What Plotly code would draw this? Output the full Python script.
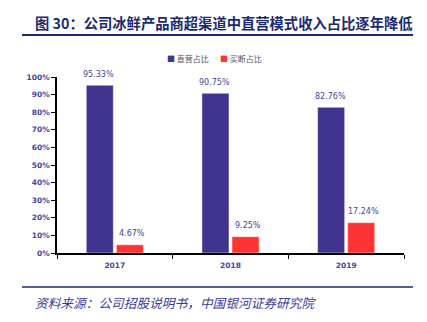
import plotly.graph_objects as go

years = ["2017", "2018", "2019"]
direct_share = [95.33, 90.75, 82.76]
buyout_share = [4.67, 9.25, 17.24]
series_names = ["直营占比", "买断占比"]
y_ticks = [0, 10, 20, 30, 40, 50, 60, 70, 80, 90, 100]
y_tick_labels = [f"{v}%" for v in y_ticks]
title_text = "图 30：公司冰鲜产品商超渠道中直营模式收入占比逐年降低"
source_text = "资料来源：公司招股说明书，中国银河证券研究院"

BLUE = "#41348f"
RED = "#ff3333"
LABEL = "#4545a5"
NAVY = "#1c2a72"

W, H = 427, 322
L, R, T, B = 57, 23, 77, 69
pw, ph = W - L - R, H - T - B

def px(x):
    return (x - L) / pw

def py(y):
    return (H - B - y) / ph

fig = go.Figure()
for name, vals, col, shift in [(series_names[0], direct_share, BLUE, -16), (series_names[1], buyout_share, RED, 17)]:
    fig.add_trace(go.Bar(
        x=years, y=vals, name=name,
        marker=dict(color=col, line=dict(color="rgba(255,255,255,0.6)", width=0.8)),
        cliponaxis=False, showlegend=False,
    ))
    for i, v in enumerate(vals):
        fig.add_annotation(x=i, y=v, xref="x", yref="y", text=f"{v:.2f}%", showarrow=False,
                           xshift=shift, yshift=11, yanchor="middle",
                           font=dict(family="DejaVu Sans", size=8, color=LABEL))

fig.update_layout(
    width=W, height=H,
    margin=dict(l=L, r=R, t=T, b=B),
    paper_bgcolor="white", plot_bgcolor="white",
    barmode="group", bargap=0.48, bargroupgap=0.1,
    font=dict(family="DejaVu Sans"),
    xaxis=dict(
        type="category", range=[-0.5, 2.5], showline=True, linecolor="black", linewidth=1.5,
        ticks="outside", tickson="boundaries", ticklen=4, tickcolor="black",
        tickfont=dict(family="DejaVu Sans", size=7.5, color=LABEL, weight="bold"),
        showgrid=False, zeroline=False, ticklabelstandoff=4,
    ),
    yaxis=dict(
        range=[0, 100], tickvals=y_ticks, ticktext=y_tick_labels,
        showline=True, linecolor="black", linewidth=1.5,
        ticks="outside", ticklen=4, tickcolor="black",
        tickfont=dict(family="DejaVu Sans", size=7.5, color=LABEL, weight="bold"),
        showgrid=False, zeroline=False,
    ),
)

ann = [
    dict(text=f"<b>{title_text}</b>", x=px(33), y=py(22), xanchor="left", yanchor="middle",
         font=dict(family="Noto Sans CJK SC", size=14.3, color=NAVY)),
    dict(text=f"<i>{source_text}</i>", x=px(33), y=py(302), xanchor="left", yanchor="middle",
         font=dict(family="Noto Sans CJK SC", size=12.7, color="#3a3a9a")),
    dict(text=f"<span style='color:{BLUE}'>■</span> {series_names[0]}", x=px(165), y=py(58),
         xanchor="left", yanchor="middle", font=dict(family="Noto Sans CJK SC", size=8, color="#555566")),
    dict(text=f"<span style='color:{RED}'>■</span> {series_names[1]}", x=px(218), y=py(58),
         xanchor="left", yanchor="middle", font=dict(family="Noto Sans CJK SC", size=8, color="#555566")),
]
for a in ann:
    fig.add_annotation(xref="paper", yref="paper", showarrow=False, **a)

fig.add_shape(type="line", xref="paper", yref="paper", x0=px(22), x1=px(413), y0=py(35), y1=py(35),
              line=dict(color=NAVY, width=2))
fig.add_shape(type="line", xref="paper", yref="paper", x0=px(22), x1=px(413), y0=py(287), y1=py(287),
              line=dict(color=NAVY, width=1.5))

fig.write_html("out.html")
